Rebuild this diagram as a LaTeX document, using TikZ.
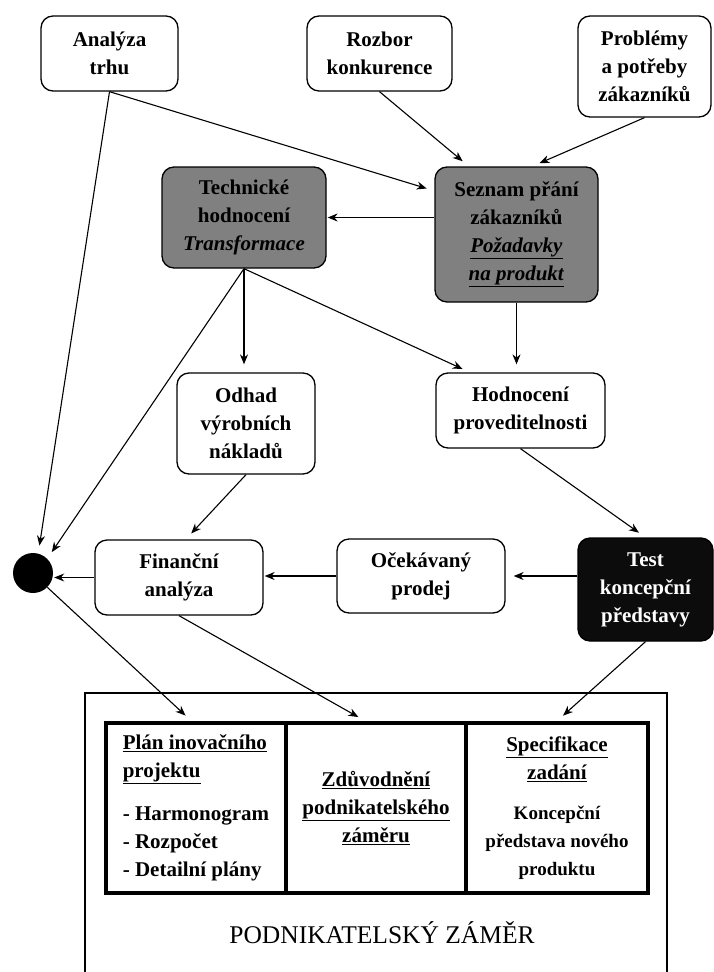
\documentclass[tikz,border=0pt]{standalone}
\usepackage{fontspec}
\setmainfont{Liberation Serif}
\usetikzlibrary{arrows.meta}
\definecolor{cgrey}{RGB}{128,128,128}
\definecolor{cdark}{RGB}{12,12,12}
\newcommand\kfont{\fontsize{19}{25}\selectfont}
\tikzset{zamer/.style={x=1pt,y=-1pt,font=\bfseries\fontsize{21}{28}\selectfont}}

\begin{document}
\begin{tikzpicture}[zamer,
    box/.style={draw,rounded corners=12pt,line width=1.3pt,fill=white,align=center,inner sep=0pt},
    greybox/.style={box,fill=cgrey},
    darkbox/.style={box,fill=cdark,text=white},
    cell/.style={draw,line width=4pt,minimum height=170,inner sep=0pt},
    arr/.style={-{Stealth[length=10pt,width=8pt]},line width=1.1pt,shorten >=8pt},
    touch/.style={shorten >=1pt}]
    \useasboundingbox (0,0) rectangle (713,972);
    % upper row
    \node[box,minimum width=137,minimum height=75] (trh) at (109.5,53.5) {Analýza\\trhu};
    \node[box,minimum width=145,minimum height=75] (konk) at (379.5,53.5) {Rozbor\\konkurence};
    \node[box,minimum width=133,minimum height=101] (probl) at (644.5,66.5) {Problémy\\a potřeby\\zákazníků};
    \node[greybox,minimum width=164,minimum height=101] (tech) at (244,217.5) {Technické\\hodnocení\\\textit{Transformace}};
    \node[greybox,minimum width=163,minimum height=135] (prani) at (516.5,234.5) {Seznam přání\\zákazníků\\\underline{\textit{Požadavky}}\\\underline{\textit{na produkt}}};
    % middle
    \node[box,minimum width=138,minimum height=101] (naklady) at (246,423.5) {Odhad\\výrobních\\nákladů};
    \node[box,minimum width=169,minimum height=75] (provedit) at (520.5,410.5) {Hodnocení\\proveditelnosti};
    \node[box,minimum width=168,minimum height=75] (financ) at (179,577.5) {Finanční\\analýza};
    \node[box,minimum width=168,minimum height=74] (prodej) at (421,576) {Očekávaný\\prodej};
    \node[darkbox,minimum width=135,minimum height=103] (test) at (645.5,589.5) {Test\\koncepční\\představy};
    \node[circle,fill=black,minimum size=40,inner sep=0pt] (uzel) at (33,573) {};
    % business plan
    \draw[line width=1.3pt] (85,975) |- (667,693) -- (667,975);
    \node[cell,minimum width=180,align=left] (plan) at (196,808)
      {\underline{Plán inovačního}\\\underline{projektu}\\[15pt]- Harmonogram\\- Rozpočet\\- Detailní plány};
    \node[cell,minimum width=180,align=center] (zduv) at (376,808)
      {\underline{Zdůvodnění}\\\underline{podnikatelského}\\\underline{záměru}};
    \node[cell,minimum width=182,align=center] (spec) at (557,808)
      {\underline{Specifikace}\\\underline{zadání}\\[12pt]{\kfont Koncepční}\\{\kfont představa nového}\\{\kfont produktu}};
    \node[font=\fontsize{25.5}{30}\selectfont] (nazev) at (382,933) {PODNIKATELSKÝ ZÁMĚR};
    % connectors
    \draw[arr] (trh.south) -- (prani.152);
    \draw[arr] (konk.south) -- (prani.125);
    \draw[arr] (probl.south) -- (prani.77);
    \draw[arr,touch] (prani.west |- tech.east) -- (tech.east);
    \draw[arr] (tech.south) -- (tech.south |- naklady.north);
    \draw[arr] (tech.south) -- (provedit.143);
    \draw[arr] (prani.south) -- (prani.south |- provedit.north);
    \draw[arr] (trh.south) -- (uzel.75);
    \draw[arr] (tech.south) -- (uzel.45);
    \draw[arr] (naklady.south) -- (financ.80);
    \draw[arr] (provedit.south) -- (test.north);
    \draw[arr] (test.west |- prodej.east) -- (prodej.east);
    \draw[arr,touch] (prodej.west) -- (financ.east |- prodej.west);
    \draw[arr,touch] (financ.west) -- (financ.west -| uzel.east);
    \draw[arr] (uzel.-45) -- (plan.93);
    \draw[arr] (financ.south) -- (zduv.97);
    \draw[arr] (test.south) -- (spec.north);
\end{tikzpicture}
\end{document}
